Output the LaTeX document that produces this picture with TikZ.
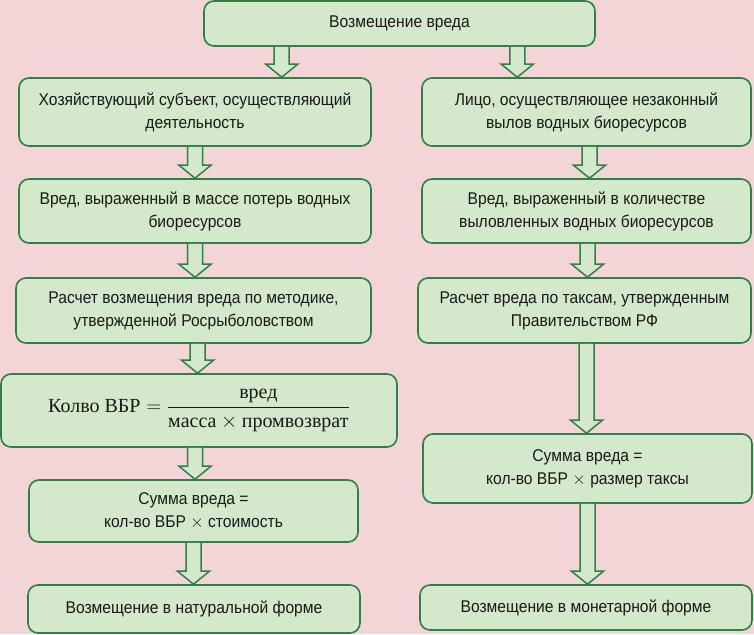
\documentclass[tikz,border=0pt]{standalone}
\usepackage{fontspec}
\usepackage{amsmath}
\setmainfont{Liberation Sans}[FakeStretch=0.92]
\newfontfamily\formulafont{Liberation Serif}
\usetikzlibrary{calc}
\definecolor{bg-pink}{HTML}{F3D4D7}
\definecolor{box-green}{HTML}{D4E8CB}
\definecolor{line-green}{HTML}{2F7F47}
\tikzset{
    green-box/.style = {draw=line-green, fill=box-green, line width=1.6pt, rectangle, rounded corners=10pt, align=center, inner sep=2pt, text=black!90, font=\fontsize{17}{23}\selectfont},
    block-arrow/.style = {draw=line-green, fill=box-green, line width=1.5pt, line join=miter},
}
% hollow block arrow from a point down to the top of a box
\newcommand{\blockarrow}[2]{%
    \path[block-arrow] let \p1 = #1, \p2 = #2 in
        (\x1-7.5pt,\y1) -- (\x1-7.5pt,\y2+13pt) -- (\x1-16pt,\y2+13pt) -- (\x1,\y2)
        -- (\x1+16pt,\y2+13pt) -- (\x1+7.5pt,\y2+13pt) -- (\x1+7.5pt,\y1);%
}

\begin{document}
\begin{tikzpicture}[x=1pt, y=-1pt]
\fill[bg-pink] (0,0) rectangle (754,634);
\useasboundingbox (0,0) rectangle (754,634);

% boxes
\node[green-box, minimum width=391pt, minimum height=45pt] (harm) at (399.5,23.5) {Возмещение вреда};

\node[green-box, minimum width=352pt, minimum height=68pt] (subj) at (195,112) {Хозяйствующий субъект, осуществляющий\\деятельность};
\node[green-box, minimum width=329pt, minimum height=68pt] (illegal) at (586.5,112) {Лицо, осуществляющее незаконный\\вылов водных биоресурсов};

\node[green-box, minimum width=352pt, minimum height=64pt] (massharm) at (195,211) {Вред, выраженный в массе потерь водных\\биоресурсов};
\node[green-box, minimum width=329pt, minimum height=64pt] (countharm) at (586.5,211) {Вред, выраженный в количестве\\выловленных водных биоресурсов};

\node[green-box, minimum width=355pt, minimum height=65pt] (method) at (193.5,310.5) {Расчет возмещения вреда по методике,\\утвержденной Росрыболовством};
\node[green-box, minimum width=333pt, minimum height=65pt] (taxcalc) at (584.5,310.5) {Расчет вреда по таксам, утвержденным\\Правительством РФ};

\node[green-box, minimum width=396pt, minimum height=73pt, font=\formulafont\fontsize{20}{24}\selectfont] (formula) at (199,410.5)
    {Колво ВБР${}={}\dfrac{\text{вред}}{\text{масса}\times\text{промвозврат}}$};

\node[green-box, minimum width=329pt, minimum height=62pt] (sumL) at (193.5,511) {Сумма вреда =\\кол-во ВБР $\times$ стоимость};
\node[green-box, minimum width=329pt, minimum height=69pt] (sumR) at (587.5,468.5) {Сумма вреда =\\кол-во ВБР $\times$ размер таксы};

\node[green-box, minimum width=332pt, minimum height=48pt] (natural) at (194,609) {Возмещение в натуральной форме};
\node[green-box, minimum width=332pt, minimum height=45pt] (monetary) at (586,607.5) {Возмещение в монетарной форме};

% arrows
\blockarrow{($(harm.south west)!0.2!(harm.south east)$)}{(subj.north)}
\blockarrow{($(harm.south west)!0.8!(harm.south east)$)}{(illegal.north)}

\blockarrow{(subj.south)}{(massharm.north)}
\blockarrow{(massharm.south)}{(method.north)}
\blockarrow{($(method.south)+(4,0)$)}{(formula.north)}
\blockarrow{($(formula.south)+(-4,0)$)}{(sumL.north)}
\blockarrow{(sumL.south)}{(natural.north)}

\blockarrow{($(illegal.south)+(3,0)$)}{(countharm.north)}
\blockarrow{($(countharm.south)+(1,0)$)}{(taxcalc.north)}
\blockarrow{($(taxcalc.south)+(2,0)$)}{(sumR.north)}
\blockarrow{(sumR.south)}{(monetary.north)}
\end{tikzpicture}
\end{document}
